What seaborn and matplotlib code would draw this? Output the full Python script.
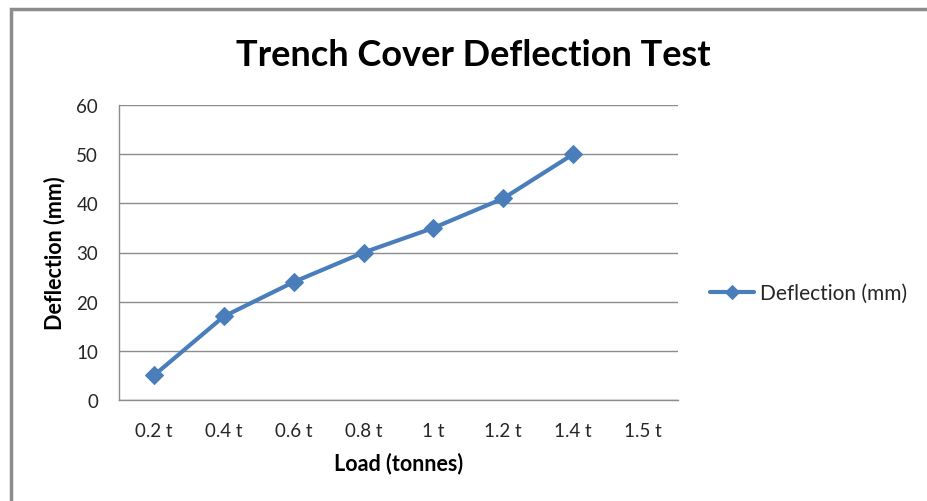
import numpy as np
import pandas as pd
import matplotlib
matplotlib.use("Agg")
import matplotlib.pyplot as plt
import seaborn as sns
from matplotlib.patches import Rectangle

# data
loads = ['0.2 t', '0.4 t', '0.6 t', '0.8 t', '1 t', '1.2 t', '1.4 t', '1.5 t']
deflection = [5, 17, 24, 30, 35, 41, 50]
yticks = [0, 10, 20, 30, 40, 50, 60]

sns.set_style('white')
plt.rcParams['font.family'] = ['Lato', 'DejaVu Sans']

df = pd.DataFrame({'pos': np.arange(len(deflection)), 'Deflection (mm)': deflection})

fig = plt.figure(figsize=(9.27, 5.02), dpi=100)
ax = fig.add_axes([119/927, 101/502, 559/927, 295/502])

line_col = '#4A7EBB'
sns.lineplot(data=df, x='pos', y='Deflection (mm)', ax=ax, color=line_col,
             linewidth=3, marker='D', markersize=9, markeredgecolor=line_col,
             label='Deflection (mm)', legend=False)

ax.set_xlim(-0.5, len(loads) - 0.5)
ax.set_ylim(0, 60)
ax.set_xticks(range(len(loads)))
ax.set_xticklabels(loads, fontsize=13.5, color='#262626')
ax.set_yticks(yticks)
ax.set_yticklabels([str(v) for v in yticks], fontsize=13.5, color='#262626')
ax.tick_params(axis='x', length=0, pad=16)
ax.tick_params(axis='y', length=0, pad=15)
ax.grid(axis='y', color='#8c8c8c', linewidth=1)
ax.set_axisbelow(True)
for s in ['top', 'right']:
    ax.spines[s].set_visible(False)
for s in ['left', 'bottom']:
    ax.spines[s].set_color('#8c8c8c')
    ax.spines[s].set_linewidth(1)

ax.set_xlabel('Load (tonnes)', fontsize=15.5, fontweight='bold', labelpad=9, color='black')
ax.set_ylabel('Deflection (mm)', fontsize=15.5, fontweight='bold', labelpad=8, color='black')

fig.text(473/927, 1 - 55/502, 'Trench Cover Deflection Test', fontsize=26,
         fontweight='bold', ha='center', va='center', color='black')

h, l = ax.get_legend_handles_labels()
leg = fig.legend(h, l, loc='center left', bbox_to_anchor=(691/927, 1 - 294/502),
                 frameon=False, fontsize=15, handlelength=2.1, handletextpad=0.3,
                 markerscale=0.8)
for t in leg.get_texts():
    t.set_color('#262626')

# outer chart border (only left and top edges fall inside the image)
fig.patches.append(Rectangle((11/927, -1), 3, 2 - 10/502, transform=fig.transFigure,
                             fill=False, edgecolor='#8c8c8c', linewidth=2.5))

fig.savefig('out.png', dpi=100)
